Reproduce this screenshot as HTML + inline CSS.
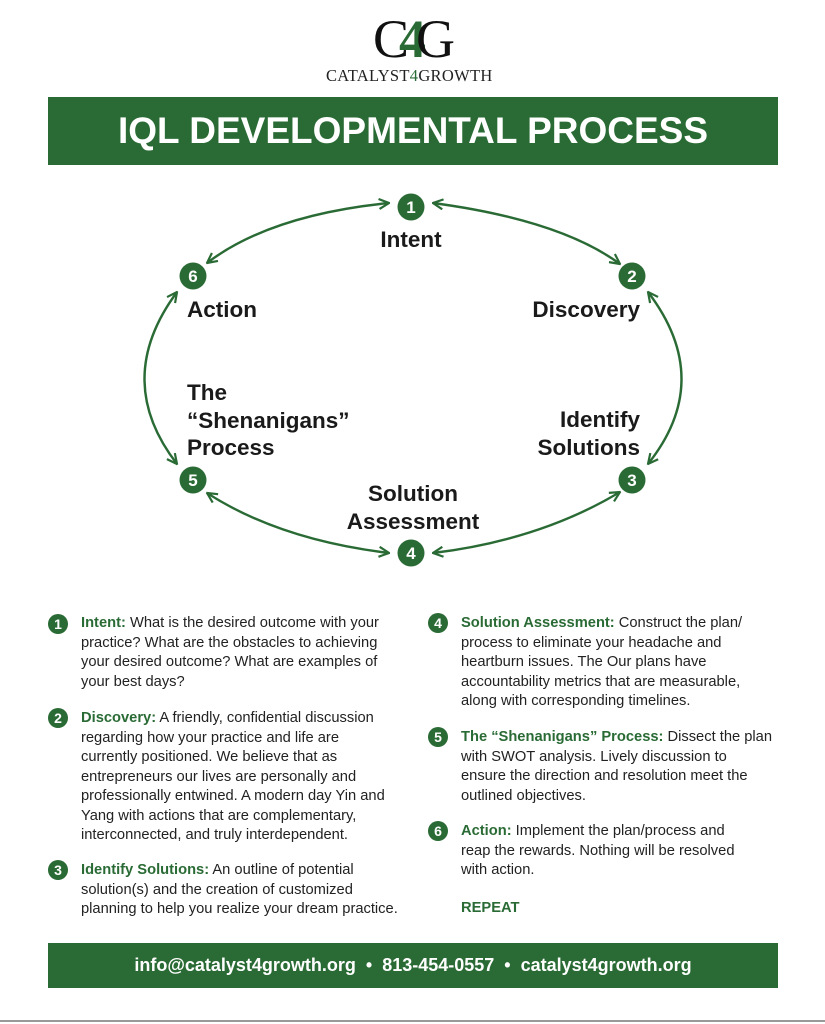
<!DOCTYPE html>
<html><head><meta charset="utf-8"><style>
*{margin:0;padding:0;box-sizing:border-box}
body{width:825px;height:1024px;background:#fff;position:relative;font-family:"Liberation Sans",Arial,sans-serif;color:#222;overflow:hidden}
.a{position:absolute;white-space:nowrap}
.t{font-size:14.7px;line-height:19.5px;color:#222}
.g{color:#2a6b35;font-weight:bold}
.n{position:absolute;width:20px;height:20px;border-radius:50%;background:#2a6b35;color:#fff;font-weight:bold;font-size:14px;text-align:center;line-height:20px}
.d{font-size:22.5px;font-weight:bold;line-height:27.5px;color:#1a1a1a}
</style></head><body>
<div class="a" style="left:373px;top:12px;font-family:'Liberation Serif',serif;font-size:54px;line-height:54px;color:#111">C<span style="color:#2a6b35;margin:0 -10px;font-weight:bold">4</span>G</div>
<div class="a" style="left:326px;top:66px;font-family:'Liberation Serif',serif;font-size:16.5px;letter-spacing:0.3px;color:#222">CATALYST<span style="color:#2a6b35">4</span>GROWTH</div>
<div class="a" style="left:48px;top:97px;width:730px;height:68px;background:#2a6b35;color:#fff;font-weight:bold;font-size:37px;text-align:center;line-height:68px">IQL DEVELOPMENTAL PROCESS</div>

<svg class="a" style="left:0;top:0" width="825" height="600">
<defs><marker id="m" viewBox="0 0 12 12" refX="11" refY="6" markerWidth="12" markerHeight="12" orient="auto-start-reverse" markerUnits="userSpaceOnUse"><path d="M1,1 L11,6 L1,11" fill="none" stroke="#2a6b35" stroke-width="2.2"/></marker></defs>
<g fill="none" stroke="#2a6b35" stroke-width="2.4" marker-start="url(#m)" marker-end="url(#m)">
<path d="M433,203 Q560,220 620,264"/>
<path d="M648,292 Q715,380 648,464"/>
<path d="M620,492 Q540,540 433,553"/>
<path d="M389,553 Q280,540 207,493"/>
<path d="M177,464 Q112,380 177,292"/>
<path d="M207,263 Q270,215 389,203"/>
</g>
<g fill="#2a6b35"><circle cx="411" cy="207" r="13.5"/><circle cx="632" cy="276" r="13.5"/><circle cx="632" cy="480" r="13.5"/><circle cx="411" cy="553" r="13.5"/><circle cx="193" cy="480" r="13.5"/><circle cx="193" cy="276" r="13.5"/></g>
<g fill="#fff" font-family="Liberation Sans,sans-serif" font-weight="bold" font-size="17" text-anchor="middle">
<text x="411" y="213">1</text><text x="632" y="282">2</text><text x="632" y="486">3</text><text x="411" y="559">4</text><text x="193" y="486">5</text><text x="193" y="282">6</text></g>
</svg>
<div class="a d" style="left:311px;width:200px;text-align:center;top:226px">Intent</div>
<div class="a d" style="left:187px;top:296px">Action</div>
<div class="a d" style="left:440px;width:200px;text-align:right;top:296px">Discovery</div>
<div class="a d" style="left:187px;top:379px">The<br>“Shenanigans”<br>Process</div>
<div class="a d" style="left:440px;width:200px;text-align:right;top:406px">Identify<br>Solutions</div>
<div class="a d" style="left:313px;width:200px;text-align:center;top:480px">Solution<br>Assessment</div>

<div class="n" style="left:48px;top:614px">1</div>
<div class="a t" style="left:81px;top:614px"><span class="g">Intent:</span> What is the desired outcome with your<br>practice? What are the obstacles to achieving<br>your desired outcome? What are examples of<br>your best days?</div>
<div class="n" style="left:48px;top:708px">2</div>
<div class="a t" style="left:81px;top:709px"><span class="g">Discovery:</span> A friendly, confidential discussion<br>regarding how your practice and life are<br>currently positioned. We believe that as<br>entrepreneurs our lives are personally and<br>professionally entwined. A modern day Yin and<br>Yang with actions that are complementary,<br>interconnected, and truly interdependent.</div>
<div class="n" style="left:48px;top:860px">3</div>
<div class="a t" style="left:81px;top:861px"><span class="g">Identify Solutions:</span> An outline of potential<br>solution(s) and the creation of customized<br>planning to help you realize your dream practice.</div>

<div class="n" style="left:428px;top:613px">4</div>
<div class="a t" style="left:461px;top:614px"><span class="g">Solution Assessment:</span> Construct the plan/<br>process to eliminate your headache and<br>heartburn issues. The Our plans have<br>accountability metrics that are measurable,<br>along with corresponding timelines.</div>
<div class="n" style="left:428px;top:727px">5</div>
<div class="a t" style="left:461px;top:728px"><span class="g">The “Shenanigans” Process:</span> Dissect the plan<br>with SWOT analysis. Lively discussion to<br>ensure the direction and resolution meet the<br>outlined objectives.</div>
<div class="n" style="left:428px;top:821px">6</div>
<div class="a t" style="left:461px;top:822px"><span class="g">Action:</span> Implement the plan/process and<br>reap the rewards. Nothing will be resolved<br>with action.</div>
<div class="a t" style="left:461px;top:899px"><span class="g">REPEAT</span></div>

<div class="a" style="left:48px;top:943px;width:730px;height:45px;background:#2a6b35;color:#fff;font-weight:bold;font-size:18px;text-align:center;line-height:45px">info@catalyst4growth.org &nbsp;•&nbsp; 813-454-0557 &nbsp;•&nbsp; catalyst4growth.org</div>
<div class="a" style="left:0;top:1020px;width:825px;height:2px;background:#999"></div>
</body></html>
